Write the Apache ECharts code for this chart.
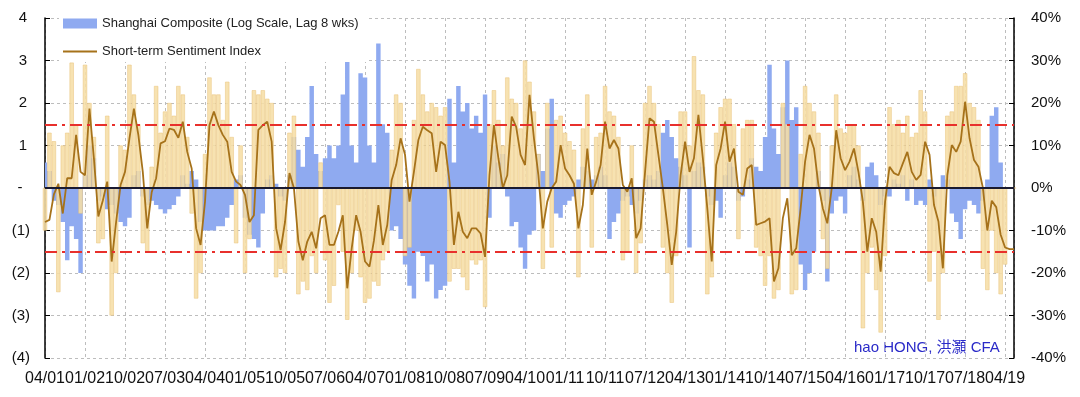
<!DOCTYPE html>
<html>
<head>
<meta charset="utf-8">
<script src="https://cdn.jsdelivr.net/npm/echarts@6/dist/echarts.min.js"></script>
<style>
  html, body { margin: 0; padding: 0; background: #fff; }
  #main { width: 1080px; height: 397px; }
</style>
</head>
<body>
<div id="main"></div>
<script>
// x axis labels, one every 9 months (MM/YY), monthly points from 04/01 to 06/19
const tickLabels = ['04/01','01/02','10/02','07/03','04/04','01/05','10/05','07/06','04/07','01/08',
  '10/08','07/09','04/10','01/11','10/11','07/12','04/13','01/14','10/14','07/15',
  '04/16','01/17','10/17','07/18','04/19'];

// short-term sentiment index, smoothed (left axis)
const sentiment = [
  -0.8,-0.75,-0.15,0.1,-0.6,0.23,0.23,1.25,0.38,0.3,
  1.87,0.7,-0.67,-0.3,0.15,-1.73,-0.8,0.07,0.38,1.17,
  1.87,1.25,0.38,-0.95,-0.1,0.23,1.05,1.1,1.4,1.37,
  1.18,1.56,0.85,0.46,-0.95,-1.34,-0.32,1.48,1.8,1.48,
  1.25,1.09,0.38,0.15,0.07,-0.16,-0.8,-0.64,1.37,1.48,
  1.56,1.09,-0.95,-1.46,-0.8,0.35,0,-1.26,-1.7,-1.26,
  -1.03,-1.42,-0.71,-0.64,-1.34,-1.34,-1.03,-0.64,-2.36,-1.42,
  -0.64,-1.03,-1.73,-1.85,
  -1.24,-0.4,-1.34,-0.87,0.19,0.54,1.17,0.78,-0.32,0.38,
  1.13,1.44,1.36,1.29,0.38,1.09,1.01,0.15,-1.34,-0.56,
  -1.03,-1.18,-0.95,-0.95,-1.07,-1.62,0.31,1.48,0.7,0,
  0.3,1.68,1.44,0.78,0.54,2.19,1.17,0.3,-0.95,-0.32,
  0,0.15,1.01,0.46,0.3,0.1,-0.95,-0.4,0.93,-0.16,
  0.15,0.54,1.56,0.93,1.13,0.93,0.07,-0.09,0.23,-1.18,
  -0.95,0.38,1.64,1.56,0.78,0,-0.87,-1.81,-1.03,0.3,
  1.09,0.38,
  0.7,1.72,0.7,-0.48,-1.73,0.54,0.93,1.56,0.62,0.93,
  -0.09,-0.16,0.46,0.54,-0.87,-0.83,-0.79,-0.71,-2.2,-1.89,
  -0.71,-0.24,-1.58,-1.42,-0.48,0.62,1.25,0.93,0.07,-0.48,
  -0.83,0,1.36,0.7,0.42,0.62,0.93,0.38,-0.32,-1.5,
  -0.71,-1.03,-1.97,-0.32,0.5,0.35,0.3,0.58,0.85,0.38,
  0.19,0.31,1.09,0.78,-0.4,-0.79,-1.89,0.3,1.01,0.85,
  1.09,2.03,1.17,0.66,0.5,0,-1.0,-0.3,-0.45,-1.1,
  -1.4,-1.44,-1.44
];

// raw weekly readings behind the index (yellow columns, left axis)
const weekly = [
  -1.0,1.3,1.1,-2.45,1.0,1.3,2.95,1.5,-0.6,2.9,
  2.0,1.2,-1.3,-1.2,1.7,-3.0,-2.0,1.0,0.9,2.9,
  2.2,1.5,-1.3,-1.5,0.5,2.4,1.3,1.8,2.0,1.7,
  2.4,2.2,1.2,-0.6,-2.6,-2.0,0.8,2.6,2.2,2.2,
  1.6,2.5,1.2,-1.3,1.0,-2.0,-1.2,2.3,2.2,2.3,
  2.1,2.0,-2.1,-1.9,-2.0,1.3,1.7,-2.5,-2.2,-2.4,
  -1.6,-2.0,0.6,-1.7,-2.7,-2.3,-0.4,-1.5,-3.1,-2.0,
  -1.0,-2.1,-2.7,-2.6,
  -2.2,-2.3,-1.7,-1.5,0.9,2.2,2.0,-1.6,-1.4,1.6,
  2.8,2.2,1.8,2.0,1.9,1.7,1.9,-2.2,-1.9,-1.9,
  -2.1,-2.4,-1.7,-1.8,-1.7,-2.8,1.5,2.3,1.6,1.0,
  2.6,2.1,2.0,1.4,3.0,2.5,1.8,0.8,-1.9,2.0,
  -1.4,1.6,1.7,1.3,1.1,0.9,-2.1,1.4,2.2,-1.4,
  1.2,1.3,2.4,1.8,1.7,1.2,-1.7,-1.5,1.0,-2.0,
  -1.3,2.0,2.4,2.0,1.5,-1.4,-2.0,-2.7,-1.6,1.8,
  1.8,1.0,
  3.1,2.3,2.2,-2.5,-2.1,1.3,1.9,2.1,2.1,1.5,
  -1.2,1.4,1.6,1.6,-1.4,-1.6,-2.3,-1.6,-2.6,-2.4,
  2.0,1.5,-2.5,-2.4,0.8,2.4,2.0,1.8,1.3,-1.2,
  -1.9,1.0,2.2,1.4,1.3,1.5,1.5,1.0,-3.3,-2.0,
  -1.4,-2.4,-3.4,-1.6,1.9,1.5,1.6,1.3,1.7,1.2,
  1.3,2.3,1.8,-2.2,-1.5,-3.1,-2.0,1.7,1.8,2.4,
  2.4,2.7,2.0,1.9,1.6,-1.9,-2.4,-1.0,-2.0,-2.5,
  -1.8,0,0
];

// Shanghai Composite, % change, lagged 8 weeks (right axis)
const shanghai = [
  6,4,-3,-4,-8,-17,-9,-12,-20,3,
  10,7,-3,-2,-5,-4,-6,-8,-9,-7,
  3,4,-2,-4,-3,-4,-5,-6,-5,-4,
  -2,3,1,4,2,-8,-10,-10,-10,-9,
  -9,-7,-4,2,3,-7,-11,-12,-14,-6,
  2,3,1,-2,-3,3,12,9,5,12,
  24,8,4,7,10,7,10,22,34,10,
  6,27,26,10,
  6,34,15,13,-10,-9,-12,-18,-23,-26,
  -15,-16,-22,-18,-26,-24,-23,21,6,24,
  18,20,14,17,13,22,-7,10,6,8,
  -2,-9,-8,-14,-19,-11,-10,8,4,14,
  21,-6,-7,-4,-3,-2,2,5,4,2,
  3,5,3,-12,-8,-6,-3,-2,-4,-6,
  -3,2,3,2,4,13,16,12,7,5,
  3,-14,
  4,6,5,-2,-4,-3,-7,3,6,5,
  -3,-2,2,7,5,4,12,29,14,8,
  19,30,16,19,-18,-24,-20,-15,4,-3,
  -22,-6,-3,-2,-6,3,5,2,-3,5,
  6,3,-4,-2,-2,2,1,3,-3,2,
  -4,-3,-4,2,-2,0,3,2,-6,-8,
  -12,-5,-3,-4,-6,-3,2,17,19,6,
  0,0,0
];

const SH_NAME = 'Shanghai Composite (Log Scale, Lag 8 wks)';
const SENT_NAME = 'Short-term Sentiment Index';
const FONT = '"Liberation Sans", Arial, sans-serif';

const chart = echarts.init(document.getElementById('main'), null, { renderer: 'canvas' });

const gridLine = { show: true, lineStyle: { color: '#BDBDBD', type: [3, 3], width: 1 } };

chart.setOption({
  animation: false,
  textStyle: { fontFamily: FONT },
  grid: { left: 45, right: 66, top: 18, bottom: 39 },
  legend: {
    orient: 'vertical',
    left: 59,
    top: 13,
    itemWidth: 34,
    itemHeight: 10,
    itemGap: 15,
    padding: [4, 8, 4, 4],
    backgroundColor: '#fff',
    textStyle: { fontSize: 13, color: '#222', fontFamily: FONT },
    data: [
      { name: SH_NAME, icon: 'rect' },
      // plain line sample, no marker
      { name: SENT_NAME, icon: 'path://M0,0L340,0L340,18L0,18Z' }
    ]
  },
  xAxis: {
    type: 'value',
    min: 0,
    max: 218,
    interval: 9,
    axisLine: { show: false },
    axisTick: { show: false },
    splitLine: gridLine,
    axisLabel: {
      fontSize: 16,
      color: '#111',
      margin: 13,
      formatter: (v) => (v % 9 === 0 && tickLabels[v / 9]) || ''
    }
  },
  yAxis: [
    {
      type: 'value',
      min: -4,
      max: 4,
      interval: 1,
      axisLine: { show: true, lineStyle: { color: '#000', width: 1.5 } },
      axisTick: { show: true, inside: true, length: 5, lineStyle: { color: '#000' } },
      splitLine: gridLine,
      axisLabel: {
        fontSize: 15,
        color: '#111',
        margin: 15,
        formatter: (v) => {
          if (v === 0) return '-\u2002';
          return v > 0 ? v + '\u2009' : '(' + (-v) + ')';
        }
      }
    },
    {
      type: 'value',
      position: 'right',
      min: -40,
      max: 40,
      interval: 10,
      axisLine: { show: true, lineStyle: { color: '#000', width: 1.5 } },
      axisTick: { show: true, inside: true, length: 5, lineStyle: { color: '#000' } },
      splitLine: { show: false },
      axisLabel: { fontSize: 15, color: '#111', margin: 17, formatter: '{value}%' }
    }
  ],
  graphic: [{
    type: 'text',
    left: 854,
    top: 340,
    style: {
      text: 'hao HONG, 洪灝 CFA',
      fill: '#2A2AC8',
      font: '15px "Liberation Sans", "Noto Sans CJK TC", sans-serif'
    }
  }],
  series: [
    {
      name: SH_NAME,
      type: 'line',
      yAxisIndex: 1,
      step: 'middle',
      symbol: 'none',
      z: 1,
      color: '#8FAAF0',
      lineStyle: { width: 0 },
      areaStyle: { color: '#8FAAF0', opacity: 1, origin: 'auto' },
      data: shanghai.map((v, i) => [i, v])
    },
    {
      name: 'weekly',
      type: 'bar',
      yAxisIndex: 0,
      barWidth: 4.2,
      z: 2,
      itemStyle: { color: 'rgba(246,222,166,0.88)', borderColor: '#E8C27A', borderWidth: 0.5 },
      data: weekly.map((v, i) => [i, v])
    },
    {
      name: SENT_NAME,
      type: 'line',
      yAxisIndex: 0,
      symbol: 'none',
      z: 4,
      color: '#A6721A',
      lineStyle: { color: '#A6721A', width: 1.8 },
      data: sentiment.map((v, i) => [i, v]),
      markLine: {
        silent: true,
        symbol: 'none',
        label: { show: false },
        data: [
          { yAxis: 1.5, lineStyle: { color: '#E8302C', width: 2, type: [12, 5, 3, 5] } },
          { yAxis: -1.5, lineStyle: { color: '#E8302C', width: 2, type: [12, 5, 3, 5] } },
          { yAxis: 0, lineStyle: { color: '#1A1A30', width: 2, type: 'solid' } }
        ]
      }
    }
  ]
});
</script>
</body>
</html>
